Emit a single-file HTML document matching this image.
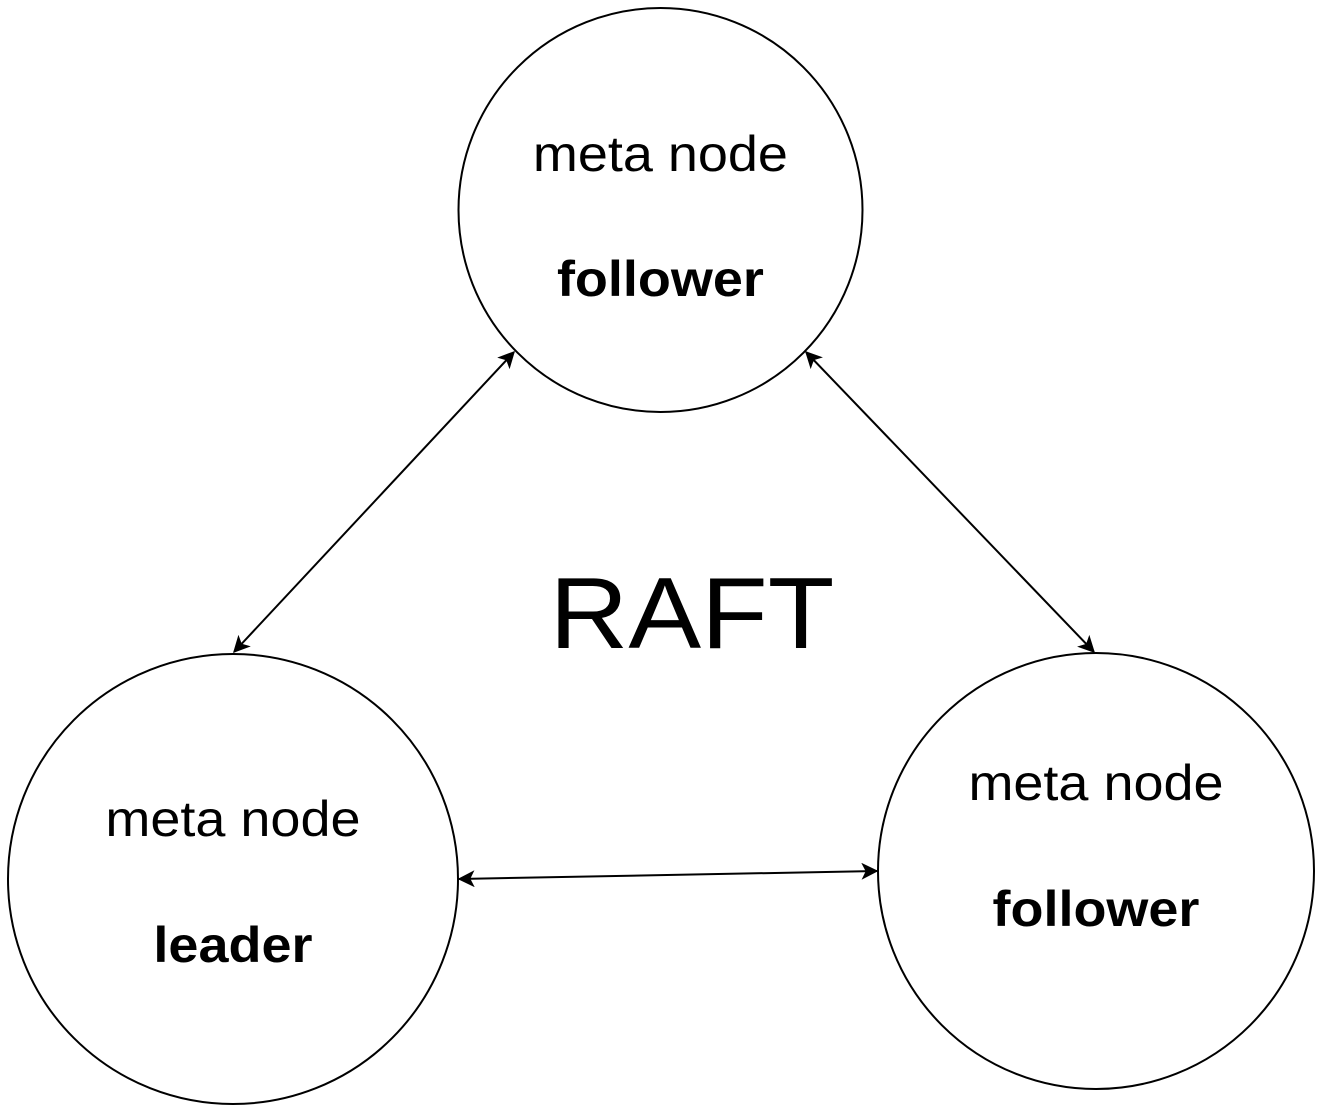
<!DOCTYPE html>
<html><head><meta charset="utf-8"><style>
html,body{margin:0;padding:0;background:#fff;}
svg{display:block;}
text{font-family:"Liberation Sans",Arial,sans-serif;fill:#000;}
</style></head><body>
<svg width="1324" height="1114" viewBox="0 0 1324 1114" xmlns="http://www.w3.org/2000/svg">
<defs>
<marker id="a" viewBox="0 0 12 12" refX="11" refY="6" markerWidth="17" markerHeight="17" markerUnits="userSpaceOnUse" orient="auto-start-reverse">
<path d="M0,0 L12,6 L0,12 L3,6 Z" fill="#000"/>
</marker>
</defs>
<g fill="none" stroke="#000" stroke-width="2">
<circle cx="660.5" cy="210" r="202"/>
<circle cx="233" cy="879" r="225"/>
<circle cx="1096" cy="871" r="218"/>
<line x1="514" y1="352" x2="234" y2="652" marker-start="url(#a)" marker-end="url(#a)"/>
<line x1="806" y1="352" x2="1094" y2="652" marker-start="url(#a)" marker-end="url(#a)"/>
<line x1="459" y1="879" x2="877" y2="871" marker-start="url(#a)" marker-end="url(#a)"/>
</g>
<g text-anchor="middle" font-size="50" transform="scale(1.08,1)">
<text x="611.5" y="171">meta node</text>
<text x="611.5" y="296" font-weight="bold">follower</text>
<text x="215.7" y="836">meta node</text>
<text x="215.7" y="962" font-weight="bold">leader</text>
<text x="1014.8" y="800">meta node</text>
<text x="1014.8" y="926" font-weight="bold">follower</text>
<text x="640.7" y="648" font-size="101">RAFT</text>
</g>
</svg>
</body></html>
